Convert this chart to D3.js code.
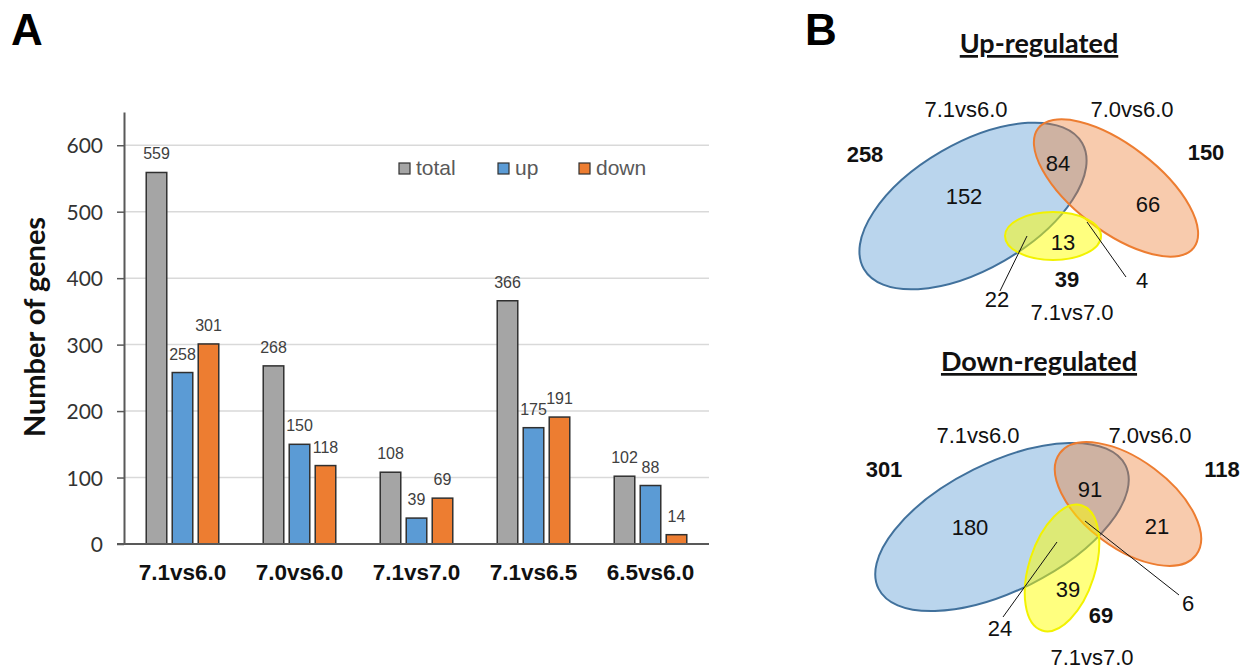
<!DOCTYPE html>
<html>
<head>
<meta charset="utf-8">
<script src="https://cdn.jsdelivr.net/npm/d3@7"></script>
<style>
  html, body { margin: 0; padding: 0; background: #fff; }
  svg { display: block; }
</style>
</head>
<body>
<div id="chart"></div>
<script>
// ---- data ----
const comparisons = ["7.1vs6.0", "7.0vs6.0", "7.1vs7.0", "7.1vs6.5", "6.5vs6.0"];
const totalGenes = [559, 268, 108, 366, 102];
const upGenes = [258, 150, 39, 175, 88];
const downGenes = [301, 118, 69, 191, 14];
const seriesNames = ["total", "up", "down"];
const yTicks = [0, 100, 200, 300, 400, 500, 600];

// venn: set names, set totals, region counts
const vennSets = ["7.1vs6.0", "7.0vs6.0", "7.1vs7.0"];
const upTotals = [258, 150, 39];
const upRegions = [152, 84, 66, 13, 22, 4];     // A only, A∩B, B only, C only, A∩C, B∩C
const downTotals = [301, 118, 69];
const downRegions = [180, 91, 21, 39, 24, 6];

const W = 1249, H = 669;
const svg = d3.select("#chart").append("svg").attr("width", W).attr("height", H);

const colors = { total: "#a5a5a5", up: "#5b9bd5", down: "#ed7d31" };

// panel letters
svg.append("text").text("A").attr("x", 11).attr("y", 45)
  .attr("font-family", "Liberation Sans, Arial").attr("font-weight", "bold").attr("font-size", 44);
svg.append("text").text("B").attr("x", 805).attr("y", 45)
  .attr("font-family", "Liberation Sans, Arial").attr("font-weight", "bold").attr("font-size", 44);

// ---- panel A: grouped bars ----
const plot = { left: 124, right: 709, top: 112, bottom: 544 };
const yScale = d3.scaleLinear().domain([0, 650]).range([plot.bottom, plot.top]);
const x0 = d3.scaleBand().domain(comparisons).range([plot.left, plot.right])
  .paddingInner(0.38).paddingOuter(0.19);
const x1 = d3.scaleBand().domain(seriesNames).range([0, x0.bandwidth()]).paddingInner(0.21);

const rows = comparisons.map((c, i) => ({
  comp: c,
  vals: [
    { key: "total", v: totalGenes[i] },
    { key: "up", v: upGenes[i] },
    { key: "down", v: downGenes[i] },
  ],
}));

// gridlines
svg.append("g").selectAll("line")
  .data(yTicks.filter((d) => d > 0))
  .join("line")
  .attr("x1", plot.left).attr("x2", plot.right)
  .attr("y1", (d) => yScale(d)).attr("y2", (d) => yScale(d))
  .attr("stroke", "#d9d9d9").attr("stroke-width", 1.5);

// y axis
const yAxis = svg.append("g")
  .attr("transform", `translate(${plot.left},0)`)
  .call(d3.axisLeft(yScale).tickValues(yTicks).tickSize(7).tickPadding(14).tickSizeOuter(0));
yAxis.select(".domain").attr("stroke", "#595959").attr("stroke-width", 2);
yAxis.selectAll(".tick line").attr("stroke", "#595959").attr("stroke-width", 1.5);
yAxis.selectAll(".tick text")
  .attr("font-family", "Lato, Carlito, Calibri, sans-serif").attr("font-size", 21)
  .attr("fill", "#333").attr("dy", "0.36em");

// bars
const groups = svg.append("g").selectAll("g")
  .data(rows)
  .join("g")
  .attr("transform", (d) => `translate(${x0(d.comp)},0)`);

groups.selectAll("rect")
  .data((d) => d.vals)
  .join("rect")
  .attr("x", (d) => x1(d.key))
  .attr("width", x1.bandwidth())
  .attr("y", (d) => yScale(d.v))
  .attr("height", (d) => yScale(0) - yScale(d.v))
  .attr("fill", (d) => colors[d.key])
  .attr("stroke", "#303030")
  .attr("stroke-width", 1.5);

groups.selectAll("text")
  .data((d) => d.vals)
  .join("text")
  .attr("x", (d) => x1(d.key) + x1.bandwidth() / 2)
  .attr("y", (d) => yScale(d.v) - 13)
  .attr("text-anchor", "middle")
  .attr("font-family", "Liberation Sans, Arial")
  .attr("font-size", 16)
  .attr("fill", "#404040")
  .text((d) => d.v);

// x axis line
svg.append("line")
  .attr("x1", plot.left - 7).attr("x2", plot.right)
  .attr("y1", plot.bottom).attr("y2", plot.bottom)
  .attr("stroke", "#595959").attr("stroke-width", 2);

// x labels
svg.append("g").selectAll("text")
  .data(comparisons)
  .join("text")
  .attr("x", (d) => x0(d) + x0.bandwidth() / 2)
  .attr("y", 580)
  .attr("text-anchor", "middle")
  .attr("font-family", "Liberation Sans, Arial")
  .attr("font-weight", "bold")
  .attr("font-size", 22.5)
  .attr("fill", "#111")
  .text((d) => d);

// y title
svg.append("text")
  .attr("transform", `translate(45,327) rotate(-90)`)
  .attr("text-anchor", "middle")
  .attr("font-family", "Lato, Carlito, Calibri, sans-serif")
  .attr("font-weight", "bold")
  .attr("font-size", 29)
  .attr("fill", "#111")
  .text("Number of genes");

// legend
const legendX = [399, 498, 579];
const legend = svg.append("g").selectAll("g")
  .data(seriesNames)
  .join("g")
  .attr("transform", (d, i) => `translate(${legendX[i]},163)`);
legend.append("rect")
  .attr("width", 11).attr("height", 11)
  .attr("fill", (d) => colors[d]).attr("stroke", "#303030").attr("stroke-width", 1.2);
legend.append("text")
  .attr("x", 17).attr("y", 12)
  .attr("font-family", "Liberation Sans, Arial").attr("font-size", 21)
  .attr("fill", "#595959")
  .text((d) => d);

// ---- panel B: venn diagrams ----
const vennStyle = [
  { fill: "#5b9bd5", stroke: "#41719c", fo: 0.42 },
  { fill: "#ed7d31", stroke: "#ed7d31", fo: 0.4 },
  { fill: "#ffff00", stroke: "#f2f200", fo: 0.5 },
];

function drawVenn(cfg, totals, regions) {
  const g = svg.append("g");
  g.append("text").text(cfg.title)
    .attr("x", cfg.titleX).attr("y", cfg.titleY)
    .attr("text-anchor", "middle")
    .attr("font-family", "Lato, Carlito, Calibri, sans-serif")
    .attr("font-weight", "bold").attr("font-size", 27)
    .attr("text-decoration", "underline")
    .attr("fill", "#111");

  g.selectAll("ellipse")
    .data(cfg.ellipses)
    .join("ellipse")
    .attr("transform", (e) => `translate(${e.cx},${e.cy}) rotate(${e.rot})`)
    .attr("rx", (e) => e.rx).attr("ry", (e) => e.ry)
    .attr("fill", (e, i) => vennStyle[i].fill)
    .attr("fill-opacity", (e, i) => vennStyle[i].fo)
    .attr("stroke", (e, i) => vennStyle[i].stroke)
    .attr("stroke-width", 2);

  g.selectAll("line.leader")
    .data(cfg.leaders)
    .join("line")
    .attr("class", "leader")
    .attr("x1", (l) => l[0]).attr("y1", (l) => l[1])
    .attr("x2", (l) => l[2]).attr("y2", (l) => l[3])
    .attr("stroke", "#111").attr("stroke-width", 1);

  const font = "Liberation Sans, Arial";
  // set names
  g.selectAll("text.setname")
    .data(vennSets)
    .join("text")
    .attr("class", "setname")
    .attr("x", (d, i) => cfg.namePos[i][0]).attr("y", (d, i) => cfg.namePos[i][1])
    .attr("text-anchor", "middle").attr("font-family", font).attr("font-size", 22)
    .attr("fill", "#111")
    .text((d) => d);
  // totals
  g.selectAll("text.total")
    .data(totals)
    .join("text")
    .attr("class", "total")
    .attr("x", (d, i) => cfg.totalPos[i][0]).attr("y", (d, i) => cfg.totalPos[i][1])
    .attr("text-anchor", "middle").attr("font-family", font).attr("font-size", 22)
    .attr("font-weight", "bold").attr("fill", "#111")
    .text((d) => d);
  // regions
  g.selectAll("text.region")
    .data(regions)
    .join("text")
    .attr("class", "region")
    .attr("x", (d, i) => cfg.regionPos[i][0]).attr("y", (d, i) => cfg.regionPos[i][1])
    .attr("text-anchor", "middle").attr("font-family", font).attr("font-size", 22)
    .attr("fill", "#111")
    .text((d) => d);
}

drawVenn({
  title: "Up-regulated", titleX: 1039, titleY: 53,
  ellipses: [
    { cx: 973, cy: 206, rx: 126, ry: 63, rot: -30 },
    { cx: 1116, cy: 188, rx: 98, ry: 43, rot: 37.4 },
    { cx: 1053, cy: 236, rx: 48, ry: 24, rot: 0 },
  ],
  leaders: [[1027, 236, 1000, 291], [1087, 222, 1126, 277]],
  namePos: [[966, 117], [1132, 117], [1072, 320]],
  totalPos: [[865, 162], [1206, 160], [1067, 287]],
  regionPos: [[964, 204], [1058, 171], [1148, 212], [1063, 250], [997, 307], [1142, 288]],
}, upTotals, upRegions);

drawVenn({
  title: "Down-regulated", titleX: 1039, titleY: 371,
  ellipses: [
    { cx: 1002, cy: 527, rx: 138, ry: 64, rot: -26.5 },
    { cx: 1128, cy: 504, rx: 85, ry: 44, rot: 36.7 },
    { cx: 1062, cy: 568, rx: 33, ry: 65.6, rot: 17.7 },
  ],
  leaders: [[1057, 542, 1003, 617], [1085, 521, 1179, 595]],
  namePos: [[978, 443], [1150, 443], [1092, 665]],
  totalPos: [[884, 477], [1222, 477], [1101, 623]],
  regionPos: [[970, 535], [1090, 497], [1157, 534], [1068, 597], [1000, 636], [1188, 611]],
}, downTotals, downRegions);
</script>
</body>
</html>
